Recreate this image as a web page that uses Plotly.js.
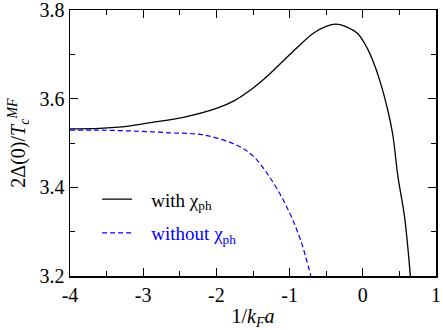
<!DOCTYPE html>
<html>
<head>
<meta charset="utf-8">
<script src="https://cdn.plot.ly/plotly-3.0.1.min.js"></script>
<style>html,body{margin:0;padding:0;background:#fff;}#chart{width:443px;height:330px;}#status{position:absolute;left:0;top:0;width:1px;height:1px;overflow:hidden;color:#fff;font:1px serif;}</style>
</head>
<body>
<div id="status"></div>
<div id="chart"></div>
<script>
// Data
const withX = [-4, -3.6, -3.2, -2.9, -2.45, -2.0, -1.76, -1.53, -1.31, -1.12, -0.9, -0.67, -0.5, -0.37, -0.21, -0.07, 0.06, 0.16, 0.25, 0.34, 0.41, 0.48, 0.57, 0.65];
const withY = [3.532, 3.533, 3.538, 3.546, 3.558, 3.578, 3.595, 3.620, 3.650, 3.680, 3.715, 3.748, 3.763, 3.768, 3.761, 3.747, 3.714, 3.676, 3.631, 3.575, 3.518, 3.424, 3.334, 3.200];
const withoutX = [-4, -3.6, -3.14, -2.63, -2.17, -1.72, -1.49, -1.26, -1.03, -0.85, -0.71];
const withoutY = [3.529, 3.529, 3.527, 3.523, 3.518, 3.495, 3.469, 3.420, 3.353, 3.281, 3.200];
// tick labels drawn with a plain hyphen, as in the reference
const xLabelAlias = {"\u22124": "-4", "\u22123": "-3", "\u22122": "-2", "\u22121": "-1"};

const font = "Times New Roman, serif";
const status = document.getElementById('status');

const traces = [
  {x: withX, y: withY, mode: "lines", type: "scatter", legendgroup: "a",
   line: {color: "#000000", width: 1.3, shape: "spline", smoothing: 1},
   name: "&nbsp;&nbsp;&nbsp;with χ<sub>ph</sub>"},
  {x: withoutX, y: withoutY, mode: "lines", type: "scatter", legendgroup: "b",
   line: {color: "#0000ff", width: 1.2, dash: "5px,3px", shape: "spline", smoothing: 1},
   name: "&nbsp;&nbsp;&nbsp;<span style=\"color:#0000ff\">without χ<sub>ph</sub></span>"}
];

const axisCommon = {
  showgrid: false, zeroline: false, showline: true, linecolor: "#000", linewidth: 1.5,
  mirror: "allticks", ticks: "inside", ticklen: 8, tickwidth: 1, tickcolor: "#000",
  ticklabeloverflow: "allow",
  tickfont: {family: font, size: 20, color: "#000"}
};

const layout = {
  width: 443, height: 330,
  margin: {l: 70, r: 7, t: 10, b: 54},
  font: {family: font, color: "#000"},
  legend: {x: 0.074, y: 0.36, xanchor: "left", yanchor: "top", bgcolor: "rgba(0,0,0,0)",
           font: {family: font, size: 19, color: "#000"}, tracegroupgap: 6, itemwidth: 30},
  xaxis: Object.assign({}, axisCommon, {
    range: [-4, 1], tickmode: "linear", tick0: -4, dtick: 1, labelalias: xLabelAlias,
    minor: {dtick: 0.5, ticks: "inside", ticklen: 5},
    title: {text: "1/<i>k</i><sub><i>F</i></sub><i>a</i>", font: {family: font, size: 20, color: "#000"}}
  }),
  yaxis: Object.assign({}, axisCommon, {
    range: [3.2, 3.8], tickmode: "linear", tick0: 3.2, dtick: 0.2, tickformat: ".1f",
    minor: {dtick: 0.1, ticks: "inside", ticklen: 5},
    title: {text: "2Δ(0)/<i>T</i><sub><i>c</i></sub><sup><i>MF</i></sup>", font: {family: font, size: 20, color: "#000"}, standoff: 8}
  })
};

Plotly.newPlot("chart", traces, layout, {displayModeBar: false, staticPlot: true}).then(function(gd){
  status.textContent = 'ok';
  if (document.fonts && document.fonts.ready) {
    document.fonts.ready.then(function(){ status.textContent = 'ready'; });
  }
});
</script>
</body>
</html>
